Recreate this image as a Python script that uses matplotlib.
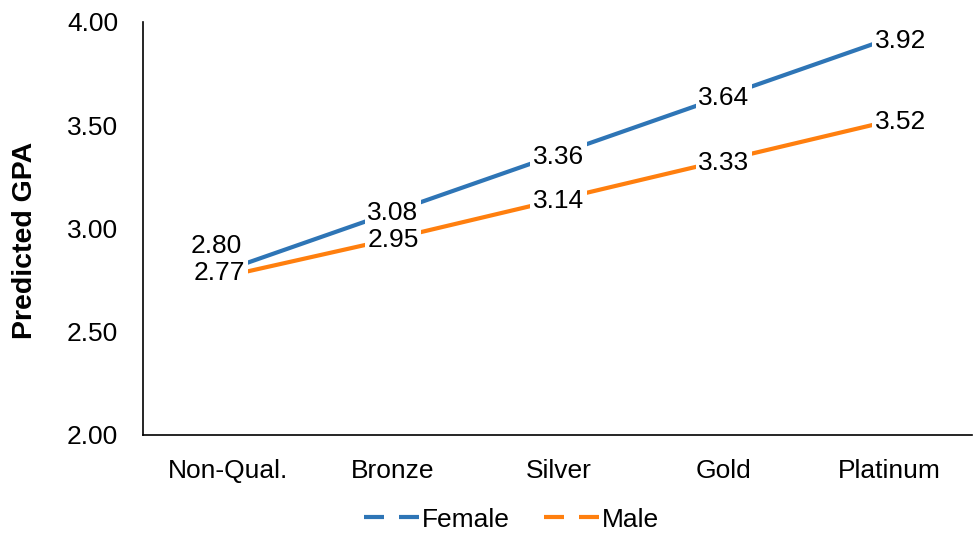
import matplotlib.pyplot as plt
from matplotlib.lines import Line2D

plt.rcParams['font.family'] = ['Liberation Sans', 'DejaVu Sans']
plt.rcParams['font.size'] = 19

# data
categories = ['Non-Qual.', 'Bronze', 'Silver', 'Gold', 'Platinum']
female = [2.80, 3.08, 3.36, 3.64, 3.92]
male = [2.77, 2.95, 3.14, 3.33, 3.52]

BLUE = '#2E75B6'
ORANGE = '#FF7F0E'
FS = 19

fig = plt.figure(figsize=(9.74, 5.33), dpi=100)
ax = fig.add_axes([0.147, 0.184, 0.851, 0.775])

x = list(range(len(categories)))
ax.plot(x, female, color=BLUE, lw=3, solid_capstyle='butt')
ax.plot(x, male, color=ORANGE, lw=3, solid_capstyle='butt')

# data labels (offsets in points), white box hides the line under the text
f_off = [(-8, 17), (0, -1), (0, -2), (0, -1), (8, -2)]
m_off = [(-6, 2), (0, -1), (0, -1), (0, -2), (8, -1)]
box = dict(boxstyle='square,pad=0.1', fc='white', ec='none')
for i in x:
    ax.annotate(f"{female[i]:.2f}", (i, female[i]), xytext=f_off[i], textcoords='offset points',
                ha='center', va='center', fontsize=FS, bbox=box, zorder=5)
    ax.annotate(f"{male[i]:.2f}", (i, male[i]), xytext=m_off[i], textcoords='offset points',
                ha='center', va='center', fontsize=FS, bbox=box, zorder=5)

ax.set_xlim(-0.51, 4.5)
ax.set_ylim(2.0, 4.0)
ax.set_yticks([2.0, 2.5, 3.0, 3.5, 4.0])
ax.set_yticklabels([f"{v:.2f}" for v in [2.0, 2.5, 3.0, 3.5, 4.0]])
ax.set_xticks(x)
ax.set_xticklabels(categories)
ax.tick_params(length=0, labelsize=FS)
ax.tick_params(axis='x', pad=17)
ax.tick_params(axis='y', pad=18)

for s in ['top', 'right']:
    ax.spines[s].set_visible(False)
for s in ['left', 'bottom']:
    ax.spines[s].set_linewidth(1.2)

ax.set_ylabel("Predicted GPA", fontweight='bold', fontsize=20.5)
ax.yaxis.set_label_coords(-0.127, 0.47)

handles = [Line2D([], [], color=BLUE, lw=3, dashes=(4.8, 3.6)),
           Line2D([], [], color=ORANGE, lw=3, dashes=(4.8, 3.6))]
fig.legend(handles, ['Female', 'Male'], loc='center', bbox_to_anchor=(0.525, 0.025),
           ncol=2, frameon=False, fontsize=FS, handlelength=2.1, handletextpad=0.1,
           columnspacing=1.3)

fig.savefig("out.png", dpi=100)
